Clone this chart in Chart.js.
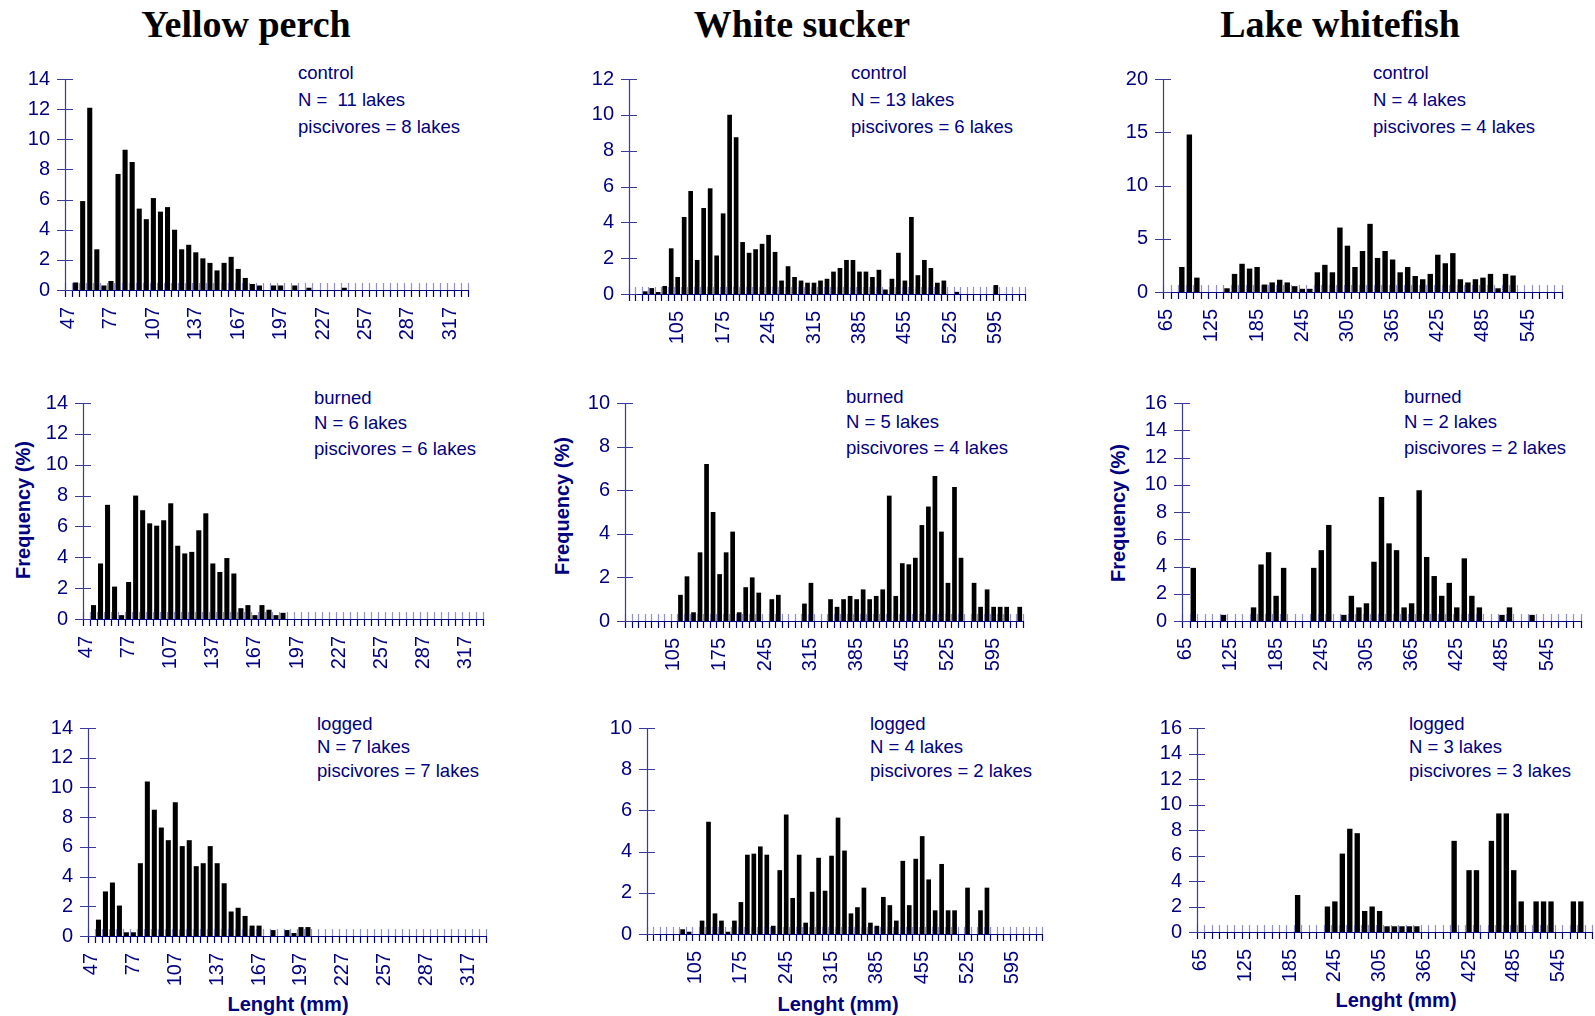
<!DOCTYPE html>
<html>
<head>
<meta charset="utf-8">
<script src="https://cdn.jsdelivr.net/npm/chart.js@4.4.1/dist/chart.umd.min.js"></script>
<style>
  body { margin: 0; background: #fff; }
  #page { position: relative; width: 1595px; height: 1016px; overflow: hidden; background: #fff; }
  canvas { position: absolute; }
  .title { position: absolute; width: 400px; text-align: center; font: bold 38px "Liberation Serif", "Times New Roman", serif; color: #000; line-height: 40px; }
  .note { position: absolute; font: 18.5px "Liberation Sans", Arial, sans-serif; color: #000080; white-space: pre; }
  .ytitle { position: absolute; width: 200px; text-align: center; font: bold 20px "Liberation Sans", Arial, sans-serif; color: #000080; line-height: 24px; transform: translate(-50%, -50%) rotate(-90deg); }
  .xtitle { position: absolute; width: 200px; text-align: center; font: bold 20px "Liberation Sans", Arial, sans-serif; color: #000080; line-height: 24px; transform: translate(-50%, -50%); }
</style>
</head>
<body>
<div id="page">
  <div class="title" style="left:46px;top:4px">Yellow perch</div>
  <div class="title" style="left:602px;top:4px">White sucker</div>
  <div class="title" style="left:1140px;top:4px">Lake whitefish</div>

  <div class="note" style="left:298px;top:59px;line-height:27px">control
N =  11 lakes
piscivores = 8 lakes</div>
  <div class="note" style="left:851px;top:59px;line-height:27px">control
N = 13 lakes
piscivores = 6 lakes</div>
  <div class="note" style="left:1373px;top:59px;line-height:27px">control
N = 4 lakes
piscivores = 4 lakes</div>

  <div class="note" style="left:314px;top:385px;line-height:25.3px">burned
N = 6 lakes
piscivores = 6 lakes</div>
  <div class="note" style="left:846px;top:384px;line-height:25.3px">burned
N = 5 lakes
piscivores = 4 lakes</div>
  <div class="note" style="left:1404px;top:384px;line-height:25.3px">burned
N = 2 lakes
piscivores = 2 lakes</div>

  <div class="note" style="left:317px;top:712px;line-height:23.3px">logged
N = 7 lakes
piscivores = 7 lakes</div>
  <div class="note" style="left:870px;top:712px;line-height:23.3px">logged
N = 4 lakes
piscivores = 2 lakes</div>
  <div class="note" style="left:1409px;top:712px;line-height:23.3px">logged
N = 3 lakes
piscivores = 3 lakes</div>

  <div class="ytitle" style="left:23px;top:510px">Frequency (%)</div>
  <div class="ytitle" style="left:562px;top:506px">Frequency (%)</div>
  <div class="ytitle" style="left:1118px;top:513px">Frequency (%)</div>

  <div class="xtitle" style="left:288px;top:1004px">Lenght (mm)</div>
  <div class="xtitle" style="left:838px;top:1004px">Lenght (mm)</div>
  <div class="xtitle" style="left:1396px;top:1000px">Lenght (mm)</div>
</div>

<script>
// length classes (mm)
var ypBins = [47,52,57,62,67,72,77,82,87,92,97,102,107,112,117,122,127,132,137,142,
  147,152,157,162,167,172,177,182,187,192,197,202,207,212,217,222,227,232,237,242,
  247,252,257,262,267,272,277,282,287,292,297,302,307,312,317,322,327];
var wsBins = [35,45,55,65,75,85,95,105,115,125,135,145,155,165,175,185,195,205,215,225,
  235,245,255,265,275,285,295,305,315,325,335,345,355,365,375,385,395,405,415,425,
  435,445,455,465,475,485,495,505,515,525,535,545,555,565,575,585,595,605,615,625,635];
var lwBins = [65,75,85,95,105,115,125,135,145,155,165,175,185,195,205,215,225,235,245,255,
  265,275,285,295,305,315,325,335,345,355,365,375,385,395,405,415,425,435,445,455,
  465,475,485,495,505,515,525,535,545,555,565,575,585];

// labelled ticks
var ypTicks = [47,77,107,137,167,197,227,257,287,317];
var wsTicks = [105,175,245,315,385,455,525,595];
var lwTicks = [65,125,185,245,305,365,425,485,545];

// frequency (%) - yellow perch
var ypControl = [0,0.5,5.9,12.1,2.7,0.3,0.6,7.7,9.3,8.5, 5.4,4.7,6.1,5.2,5.5,4.0,2.7,3.0,2.5,2.1,
  1.8,1.3,1.8,2.2,1.4,0.8,0.4,0.3,0,0.3, 0.3,0,0.3,0,0.15,0,0,0,0,0.15,
  0,0,0,0,0,0,0,0,0,0, 0,0,0,0,0,0,0];
var ypBurned = [0,0.9,3.6,7.4,2.1,0.25,2.4,8.0,7.05,6.2, 6.05,6.4,7.5,4.75,4.25,4.35,5.75,6.85,3.6,3.05,
  3.95,2.95,0.7,0.9,0.25,0.9,0.6,0.25,0.4,0, 0,0,0,0,0,0,0,0,0,0,
  0,0,0,0,0,0,0,0,0,0, 0,0,0,0,0,0,0];
var ypLogged = [0,1.1,3.0,3.6,2.05,0.25,0.25,4.9,10.4,8.5, 7.3,6.45,9.0,6.05,6.45,4.7,4.9,6.05,4.9,3.55,
  1.65,1.9,1.35,0.7,0.7,0,0.4,0,0.4,0.2, 0.6,0.6,0,0,0,0,0,0,0,0,
  0,0,0,0,0,0,0,0,0,0, 0,0,0,0,0,0,0];

// white sucker
var wsControl = [0,0,0.15,0.33,0.11,0.45,2.55,0.95,4.3,5.75, 1.9,4.8,5.9,2.15,4.5,10.0,8.75,2.9,2.3,2.5,
  2.8,3.3,2.35,0.75,1.55,0.95,0.75,0.63,0.63,0.75, 0.85,1.25,1.45,1.9,1.9,1.25,1.25,0.95,1.35,0.25,
  0.85,2.3,0.75,4.3,1.05,1.9,1.45,0.63,0.75,0, 0.12,0,0,0,0,0,0.5,0,0,0, 0];
var wsBurned = [0,0,0,0,0,0,0,0,1.2,2.05, 0.4,3.15,7.2,5.0,2.15,3.15,4.1,0.4,1.55,2.0,
  1.3,0,1.0,1.2,0,0,0,0.8,1.75,0, 0,1.0,0.65,1.0,1.15,1.0,1.45,1.0,1.15,1.45,
  5.75,1.15,2.65,2.6,2.9,4.4,5.25,6.65,4.1,1.75, 6.15,2.9,0,1.75,0.65,1.45,0.65,0.65,0.65,0, 0.65];
var wsLogged = [0,0,0,0,0,0.23,0.11,0,0.65,5.45, 1.0,0.65,0.11,0.65,1.55,3.85,3.9,4.25,3.85,0.4,
  3.1,5.8,1.75,3.85,0.55,2.05,3.7,2.1,3.8,5.65, 4.05,1.0,1.3,2.25,0.55,0.4,1.8,1.4,0.65,3.55,
  1.4,3.65,4.75,2.65,1.15,3.4,1.15,1.15,0,2.25, 0,1.15,2.25,0,0,0,0,0,0,0, 0];

// lake whitefish
var lwControl = [0,0,2.35,14.8,1.35,0,0,0,0.35,1.7, 2.65,2.2,2.35,0.7,0.9,1.15,0.9,0.55,0.3,0.3,
  1.85,2.55,1.85,6.05,4.35,2.35,3.85,6.4,3.2,3.85, 3.05,1.85,2.35,1.5,1.2,1.7,3.5,2.7,3.65,1.2,
  0.9,1.2,1.35,1.7,0.35,1.7,1.55,0,0,0, 0,0,0];
var lwBurned = [0,3.9,0,0,0,0.45,0,0,0,1.0, 4.15,5.05,1.85,3.9,0,0,0,3.9,5.2,7.05,
  0,0.45,1.85,1.0,1.3,4.35,9.1,5.7,5.2,1.0, 1.3,9.6,4.7,3.3,1.85,2.8,1.0,4.6,1.85,1.0,
  0,0,0.45,1.0,0,0,0.45,0,0,0, 0,0,0];
var lwLogged = [0,0,0,0,0,0,0,0,0,0, 0,0,0,2.9,0,0,0,2.0,2.4,6.15,
  8.1,7.75,1.65,2.0,1.65,0.45,0.45,0.45,0.45,0.45, 0,0,0,0,7.15,0,4.85,4.85,0,7.15,
  9.3,9.3,4.85,2.4,0,2.4,2.4,2.4,0,0, 2.4,2.4,0];

var navy = '#000080';
var padTop = 15, padRight = 5, yW = 60, xH = 62;

var panels = [
  { bins: ypBins, ticks: ypTicks, data: ypControl, ymax: 14, step: 2, L: 65,   T: 79,  B: 290, R: 468 },
  { bins: wsBins, ticks: wsTicks, data: wsControl, ymax: 12, step: 2, L: 629,  T: 79,  B: 294, R: 1025 },
  { bins: lwBins, ticks: lwTicks, data: lwControl, ymax: 20, step: 5, L: 1163, T: 79,  B: 292, R: 1562 },
  { bins: ypBins, ticks: ypTicks, data: ypBurned,  ymax: 14, step: 2, L: 83,   T: 403, B: 619, R: 483 },
  { bins: wsBins, ticks: wsTicks, data: wsBurned,  ymax: 10, step: 2, L: 625,  T: 403, B: 621, R: 1023 },
  { bins: lwBins, ticks: lwTicks, data: lwBurned,  ymax: 16, step: 2, L: 1182, T: 403, B: 621, R: 1581 },
  { bins: ypBins, ticks: ypTicks, data: ypLogged,  ymax: 14, step: 2, L: 88,   T: 728, B: 936, R: 486 },
  { bins: wsBins, ticks: wsTicks, data: wsLogged,  ymax: 10, step: 2, L: 647,  T: 728, B: 934, R: 1042 },
  { bins: lwBins, ticks: lwTicks, data: lwLogged,  ymax: 16, step: 2, L: 1197, T: 728, B: 932, R: 1592 }
];

// axis lines with ticks crossing them, as in the original
var crossAxes = {
  id: 'crossAxes',
  afterDatasetsDraw: function(chart) {
    var ctx = chart.ctx, a = chart.chartArea, y = chart.scales.y;
    var n = chart.data.labels.length;
    var w = (a.right - a.left) / n;
    var i, px;
    ctx.save();
    ctx.lineWidth = 1.2;
    ctx.strokeStyle = 'rgba(70,70,170,0.6)';
    ctx.beginPath();
    for (i = 0; i <= n; i++) {
      px = Math.round(a.left + i * w) + 0.5;
      ctx.moveTo(px, a.bottom - 7);
      ctx.lineTo(px, a.bottom);
    }
    ctx.stroke();
    ctx.strokeStyle = navy;
    ctx.beginPath();
    for (i = 0; i <= n; i++) {
      px = Math.round(a.left + i * w) + 0.5;
      ctx.moveTo(px, a.bottom);
      ctx.lineTo(px, a.bottom + 7);
    }
    ctx.moveTo(a.left - 7, a.bottom + 0.5);
    ctx.lineTo(a.right, a.bottom + 0.5);
    ctx.stroke();
    ctx.strokeStyle = '#3a3a9a';
    ctx.beginPath();
    ctx.moveTo(a.left + 0.5, a.top);
    ctx.lineTo(a.left + 0.5, a.bottom);
    y.ticks.forEach(function(t) {
      var py = Math.round(y.getPixelForValue(t.value)) + 0.5;
      ctx.moveTo(a.left - 8, py);
      ctx.lineTo(a.left + 8, py);
    });
    ctx.stroke();
    ctx.restore();
  }
};

function noPad(s) {
  s.paddingTop = 0; s.paddingBottom = 0;
  s.paddingLeft = 0; s.paddingRight = 0;
}

var page = document.getElementById('page');

panels.forEach(function(p) {
  var cv = document.createElement('canvas');
  var w = p.R - p.L + yW + padRight;
  var h = p.B - p.T + padTop + xH;
  cv.width = w; cv.height = h;
  cv.style.width = w + 'px'; cv.style.height = h + 'px';
  cv.style.left = (p.L - yW) + 'px';
  cv.style.top = (p.T - padTop) + 'px';
  page.appendChild(cv);

  new Chart(cv, {
    type: 'bar',
    data: {
      labels: p.bins.map(String),
      datasets: [{
        data: p.data,
        backgroundColor: '#000',
        borderWidth: 0,
        barPercentage: 0.72,
        categoryPercentage: 1.0
      }]
    },
    options: {
      responsive: false,
      animation: false,
      layout: { padding: { top: padTop, right: padRight, left: 0, bottom: 0 } },
      plugins: { legend: { display: false }, tooltip: { enabled: false } },
      scales: {
        x: {
          type: 'category',
          offset: true,
          grid: { display: false, drawTicks: false },
          border: { display: false },
          ticks: {
            autoSkip: false,
            minRotation: 90,
            maxRotation: 90,
            padding: 17,
            color: navy,
            font: { family: '"Liberation Sans", Arial, sans-serif', size: 20 },
            callback: function(v) {
              var lab = this.getLabelForValue(v);
              return p.ticks.indexOf(+lab) >= 0 ? lab : '';
            }
          },
          afterFit: function(s) { s.height = xH; noPad(s); }
        },
        y: {
          min: 0,
          max: p.ymax,
          grid: { display: false, drawTicks: false },
          border: { display: false },
          ticks: {
            autoSkip: false,
            stepSize: p.step,
            padding: 15,
            color: navy,
            font: { family: '"Liberation Sans", Arial, sans-serif', size: 20 }
          },
          afterFit: function(s) { s.width = yW; noPad(s); }
        }
      }
    },
    plugins: [crossAxes]
  });
});
</script>
</body>
</html>
